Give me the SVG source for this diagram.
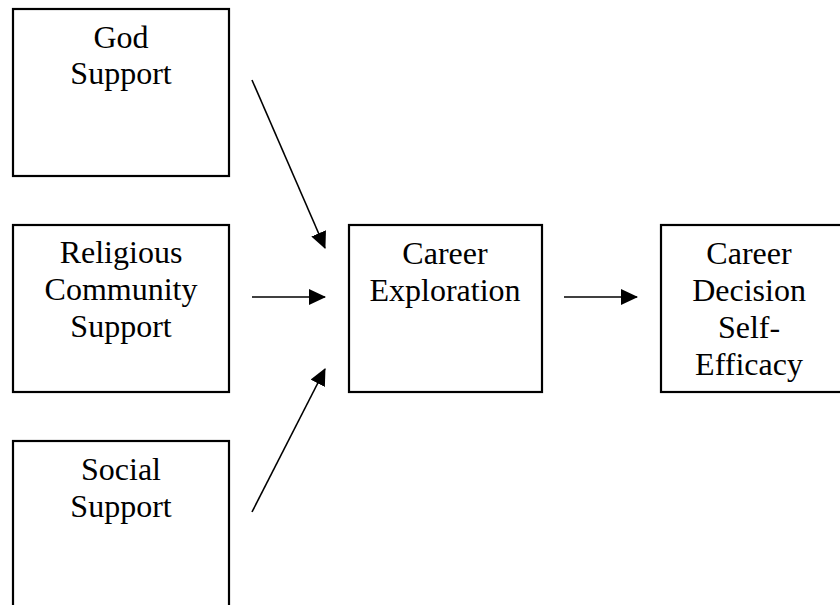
<svg xmlns="http://www.w3.org/2000/svg" width="840" height="605" viewBox="0 0 840 605">
<style>
.box{fill:#fff;stroke:#000;stroke-width:2.2}
.t{font-family:"Liberation Serif","Times New Roman",serif;font-size:32px;fill:#000;text-anchor:middle}
.c{stroke:#000;stroke-width:1.6;fill:none;marker-end:url(#ah)}
</style>
<defs>
<marker id="ah" markerUnits="userSpaceOnUse" markerWidth="17" markerHeight="16" refX="16" refY="8" orient="auto">
<path d="M0,0 L17,8 L0,16 z" fill="#000"/>
</marker>
</defs>
<rect width="840" height="605" fill="#fff"/>
<g id="god">
<rect class="box" x="13" y="9" width="216" height="167"/>
<text class="t" x="121" y="48">God</text>
<text class="t" x="121" y="84">Support</text>
</g>
<g id="religious">
<rect class="box" x="13" y="225" width="216" height="167"/>
<text class="t" x="121" y="263">Religious</text>
<text class="t" x="121" y="300">Community</text>
<text class="t" x="121" y="337">Support</text>
</g>
<g id="social">
<rect class="box" x="13" y="441" width="216" height="180"/>
<text class="t" x="121" y="480">Social</text>
<text class="t" x="121" y="517">Support</text>
</g>
<g id="exploration">
<rect class="box" x="349" y="225" width="193" height="167"/>
<text class="t" x="445" y="264">Career</text>
<text class="t" x="445" y="301">Exploration</text>
</g>
<g id="efficacy">
<rect class="box" x="661" y="225" width="182" height="167"/>
<text class="t" x="749" y="264">Career</text>
<text class="t" x="749" y="301">Decision</text>
<text class="t" x="749" y="338">Self-</text>
<text class="t" x="749" y="375">Efficacy</text>
</g>
<g id="connectors">
<line class="c" x1="252" y1="80" x2="325" y2="248"/>
<line class="c" x1="252" y1="297" x2="325" y2="297"/>
<line class="c" x1="252" y1="512" x2="325" y2="369"/>
<line class="c" x1="564" y1="297" x2="637" y2="297"/>
</g>
</svg>
